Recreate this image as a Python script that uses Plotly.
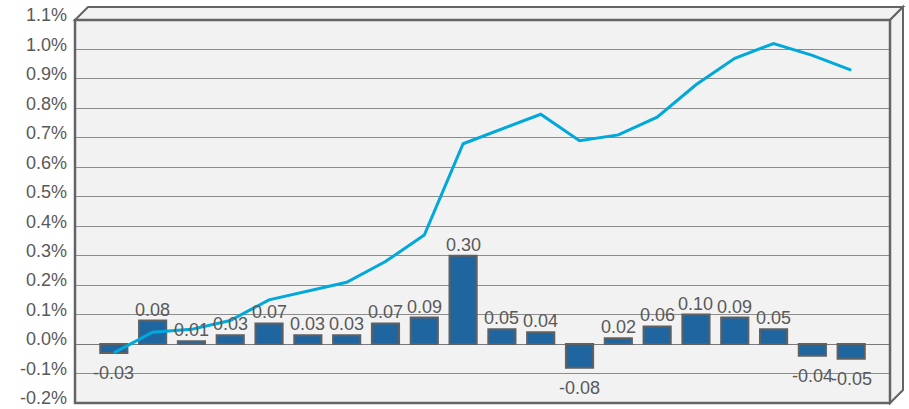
import plotly.graph_objects as go

# ---- data ----
categories = list(range(20))
bar_values = [-0.03, 0.08, 0.01, 0.03, 0.07, 0.03, 0.03, 0.07, 0.09, 0.30,
              0.05, 0.04, -0.08, 0.02, 0.06, 0.10, 0.09, 0.05, -0.04, -0.05]
line_values = [-0.03, 0.04, 0.05, 0.08, 0.15, 0.18, 0.21, 0.28, 0.37, 0.68,
               0.73, 0.78, 0.69, 0.71, 0.77, 0.88, 0.97, 1.02, 0.98, 0.93]
y_ticks = [-0.2, -0.1, 0.0, 0.1, 0.2, 0.3, 0.4, 0.5, 0.6, 0.7, 0.8, 0.9, 1.0, 1.1]

W, H = 909, 409
L, R, T, B = 75, 19, 20, 6
pw, ph = W - L - R, H - T - B

def px(x):
    return (x - L) / pw

def py(y):
    return (H - B - y) / ph

FONT = "Liberation Sans, Arial, sans-serif"
TXT = "#595959"
FRAME = "#646464"

fig = go.Figure()
fig.add_trace(go.Bar(
    x=categories, y=bar_values, width=0.7,
    marker=dict(color="#1f66a0", line=dict(color="#606060", width=2)),
    showlegend=False, hoverinfo="skip",
))
fig.add_trace(go.Scatter(
    x=categories, y=line_values, mode="lines",
    line=dict(color="#00a8dc", width=3), showlegend=False, hoverinfo="skip",
))

annotations = []
for c, v in zip(categories, bar_values):
    annotations.append(dict(
        x=c, y=v, xref="x", yref="y", text=f"{v:.2f}", showarrow=False,
        yanchor="bottom" if v >= 0 else "top",
        yshift=-1 if v >= 0 else -8,
        font=dict(family=FONT, size=18, color=TXT),
    ))

# 3D-look frame: top and right faces
dx, dy = 13, 13
top_face = (f"M {px(L)} {py(T)} L {px(L+dx)} {py(T-dy)} L {px(W-R+dx)} {py(T-dy)} "
            f"L {px(W-R)} {py(T)} Z")
right_face = (f"M {px(W-R)} {py(T)} L {px(W-R+dx)} {py(T-dy)} L {px(W-R+dx)} {py(H-B-dy)} "
              f"L {px(W-R)} {py(H-B)} Z")
shapes = [
    dict(type="path", xref="paper", yref="paper", path=top_face,
         fillcolor="#f2f2f2", line=dict(color=FRAME, width=2), layer="below"),
    dict(type="path", xref="paper", yref="paper", path=right_face,
         fillcolor="#f2f2f2", line=dict(color=FRAME, width=2), layer="below"),
    dict(type="rect", xref="paper", yref="paper", x0=0, x1=1, y0=0, y1=1,
         fillcolor="rgba(0,0,0,0)", line=dict(color=FRAME, width=2.5), layer="above"),
]

fig.update_layout(
    width=W, height=H,
    margin=dict(l=L, r=R, t=T, b=B, autoexpand=False),
    paper_bgcolor="white", plot_bgcolor="#f2f2f2",
    shapes=shapes, annotations=annotations,
    font=dict(family=FONT, color=TXT),
    xaxis=dict(range=[-1, 20], visible=False, showgrid=False, zeroline=False,
               automargin=False),
    yaxis=dict(range=[-0.2, 1.1], tickvals=y_ticks, ticktext=[f"{v:.1f}%" for v in y_ticks],
               automargin=False, ticklabeloverflow="allow",
               showgrid=True, gridcolor="#8c8c8c", gridwidth=1,
               zeroline=True, zerolinecolor="#7a7a7a", zerolinewidth=1,
               showline=False, ticks="", ticklabelstandoff=7, ticklabelshift=-5,
               tickfont=dict(family=FONT, size=18, color=TXT)),
)

fig.write_html("out.html", config={"displayModeBar": False, "staticPlot": True},
               post_script="document.body.style.margin='0';document.body.style.overflow='hidden';")
